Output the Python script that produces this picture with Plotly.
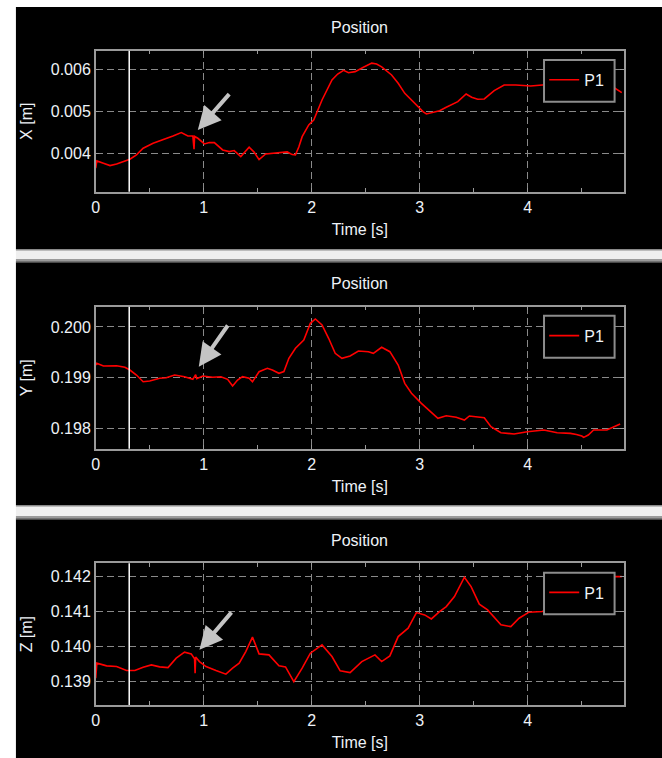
import plotly.graph_objects as go

W, H = 662, 758

# ---------------- data ----------------
t_x = [0.000, 0.010, 0.071, 0.132, 0.193, 0.255, 0.316, 0.377, 0.439, 0.531, 0.623, 0.715, 0.792,
       0.853, 0.899, 0.910, 0.915, 0.945, 1.006, 1.052, 1.098, 1.175, 1.236, 1.282, 1.343, 1.420,
       1.466, 1.512, 1.573, 1.635, 1.727, 1.773, 1.819, 1.849, 1.880, 1.911, 1.972, 2.018, 2.095,
       2.150, 2.187, 2.240, 2.294, 2.340, 2.401, 2.478, 2.555, 2.600, 2.647, 2.739, 2.800, 2.861,
       2.953, 3.030, 3.061, 3.122, 3.183, 3.245, 3.352, 3.429, 3.480, 3.536, 3.597, 3.689, 3.781,
       3.889, 4.027, 4.134, 4.250, 4.400, 4.550, 4.700, 4.808, 4.870]
x_pos = [0.00365, 0.00382, 0.003765, 0.003709, 0.003749, 0.003804, 0.003860, 0.003962, 0.004121,
         0.004239, 0.004318, 0.004412, 0.004491, 0.004412, 0.004412, 0.004100, 0.004400, 0.004357,
         0.004223, 0.004255, 0.004255, 0.004081, 0.004041, 0.004065, 0.003922, 0.004144, 0.004030,
         0.003850, 0.003986, 0.004002, 0.004010, 0.004033, 0.003970, 0.003962, 0.004150, 0.004396,
         0.004673, 0.004791, 0.005265, 0.005560, 0.005739, 0.005880, 0.005968, 0.005913, 0.005937,
         0.006040, 0.006140, 0.006120, 0.006050, 0.005858, 0.005661, 0.005423, 0.005187, 0.004988,
         0.004934, 0.004964, 0.005012, 0.005092, 0.005226, 0.005408, 0.005330, 0.005282, 0.005289,
         0.005486, 0.005621, 0.005621, 0.005597, 0.005621, 0.005640, 0.005660, 0.005640, 0.005600,
         0.005542, 0.005439]

t_y = [0.000, 0.009, 0.071, 0.193, 0.270, 0.316, 0.377, 0.439, 0.500, 0.592, 0.653, 0.730, 0.822,
       0.899, 0.925, 0.935, 0.991, 1.083, 1.159, 1.221, 1.267, 1.313, 1.359, 1.420, 1.451, 1.512,
       1.589, 1.635, 1.696, 1.742, 1.788, 1.849, 1.926, 1.987, 2.033, 2.095, 2.156, 2.217, 2.279,
       2.355, 2.432, 2.524, 2.570, 2.647, 2.723, 2.800, 2.861, 2.923, 3.015, 3.107, 3.168, 3.245,
       3.337, 3.413, 3.459, 3.597, 3.659, 3.751, 3.873, 3.996, 4.149, 4.272, 4.395, 4.450, 4.500,
       4.517, 4.560, 4.609, 4.732, 4.855]
y_pos = [0.19925, 0.199284, 0.199231, 0.199237, 0.199205, 0.199152, 0.199053, 0.198921, 0.198935,
         0.198988, 0.199000, 0.199053, 0.199020, 0.198968, 0.199060, 0.198980, 0.199034, 0.199008,
         0.199020, 0.198968, 0.198836, 0.198955, 0.199020, 0.198988, 0.198921, 0.199118, 0.199185,
         0.199150, 0.199087, 0.199120, 0.199382, 0.199580, 0.199744, 0.200073, 0.200158, 0.200039,
         0.199777, 0.199481, 0.199382, 0.199428, 0.199527, 0.199513, 0.199480, 0.199600, 0.199513,
         0.199250, 0.198889, 0.198692, 0.198495, 0.198310, 0.198199, 0.198250, 0.198219, 0.198166,
         0.198245, 0.198211, 0.198034, 0.197915, 0.197890, 0.197935, 0.197968, 0.197915, 0.197902,
         0.197880, 0.197850, 0.197824, 0.197870, 0.197968, 0.197968, 0.198087]

t_z = [0.000, 0.010, 0.101, 0.193, 0.285, 0.362, 0.439, 0.515, 0.592, 0.669, 0.745, 0.822, 0.884,
       0.915, 0.920, 0.925, 0.960, 1.021, 1.113, 1.205, 1.267, 1.328, 1.389, 1.451, 1.512, 1.604,
       1.696, 1.757, 1.834, 1.911, 1.987, 2.095, 2.187, 2.263, 2.355, 2.463, 2.585, 2.647, 2.723,
       2.800, 2.892, 2.969, 3.045, 3.107, 3.183, 3.245, 3.321, 3.413, 3.475, 3.551, 3.628, 3.751,
       3.843, 3.919, 4.011, 4.134, 4.300, 4.500, 4.700, 4.811, 4.870]
z_pos = [0.139097, 0.139526, 0.139449, 0.139429, 0.139314, 0.139314, 0.139411, 0.139477, 0.139420,
         0.139400, 0.139669, 0.139840, 0.139790, 0.139650, 0.139240, 0.139700, 0.139571, 0.139429,
         0.139314, 0.139211, 0.139383, 0.139526, 0.139857, 0.140269, 0.139791, 0.139763, 0.139449,
         0.139420, 0.139000, 0.139383, 0.139811, 0.140049, 0.139714, 0.139306, 0.139257, 0.139571,
         0.139763, 0.139571, 0.139734, 0.140286, 0.140526, 0.140971, 0.140906, 0.140791, 0.141000,
         0.141143, 0.141429, 0.141983, 0.141714, 0.141211, 0.141049, 0.140620, 0.140571, 0.140811,
         0.140983, 0.141000, 0.141200, 0.141500, 0.141850, 0.142000, 0.142000]

series_name = "P1"
panel_title = "Position"
x_label = "Time [s]"
y_labels = ["X [m]", "Y [m]", "Z [m]"]
cursor_time = 0.31
# arrow tips (data coords) for the annotated glitch
arrow_tips = [(0.945, 0.004555), (0.954, 0.199217), (0.960, 0.139906)]
x_range = [0, 4.89]
y_ranges = [[0.00309, 0.006434], [0.1976, 0.2004], [0.13833, 0.14238]]

# ---------------- layout geometry (pixels) ----------------
def px(x):
    return x / W

def py(y):
    return 1 - y / H

plot_left, plot_right = 92.3, 623.7
plot_tb = [(50.7, 191.7), (306.7, 448.7), (563.3, 705.0)]
panel_tb = [(7, 249), (263, 505), (520, 758)]
legend_tb = [(60, 101.7), (315.7, 357.7), (572.7, 614.3)]
arrow_tail = [(32.7, -37.3), (30, -42.7), (33.3, -39)]

FONT = "Liberation Sans, Arial, sans-serif"
TXT = "#eef2f7"
GRID = "#8a8a8a"
FRAME = "#9a9a9a"

fig = go.Figure()
shapes = []
annotations = []

series = [(t_x, x_pos), (t_y, y_pos), (t_z, z_pos)]
for i, (tt, vv) in enumerate(series):
    n = "" if i == 0 else str(i + 1)
    leg = "legend" if i == 0 else f"legend{i + 1}"
    fig.add_trace(go.Scatter(
        x=tt, y=vv, mode="lines", name=series_name,
        line=dict(color="#ff0000", width=1.6),
        xaxis=f"x{n}", yaxis=f"y{n}", legend=leg, showlegend=True,
    ))
    top, bot = plot_tb[i]
    common_ax = dict(
        showline=True, linecolor=FRAME, linewidth=1.5, mirror="ticks",
        ticks="inside", ticklen=4, tickcolor=FRAME,
        showgrid=True, gridcolor=GRID, gridwidth=1, griddash="7px,4px",
        zeroline=False,
        tickfont=dict(family=FONT, size=16, color=TXT),
        title_font=dict(family=FONT, size=16, color=TXT),
    )
    fig.update_layout(**{
        f"xaxis{n}": dict(
            domain=[px(plot_left), px(plot_right)], anchor=f"y{n}",
            range=x_range, dtick=1, tick0=0,
            minor=dict(dtick=0.5, ticks="inside", ticklen=4, tickcolor=FRAME, showgrid=False),
            title=dict(text=x_label, standoff=9),
            **common_ax),
        f"yaxis{n}": dict(
            domain=[py(bot), py(top)], anchor=f"x{n}",
            range=y_ranges[i], dtick=0.001, tick0=0, tickformat=".3f",
            title=dict(text=y_labels[i], standoff=14),
            **common_ax),
    })
    # black panel background
    ptop, pbot = panel_tb[i]
    shapes.append(dict(type="rect", xref="paper", yref="paper", layer="below",
                       x0=px(12), x1=1, y0=py(pbot), y1=py(ptop),
                       fillcolor="black", line=dict(width=0)))
    # time cursor
    shapes.append(dict(type="line", xref=f"x{n}", yref=f"y{n} domain", layer="above",
                       x0=cursor_time, x1=cursor_time, y0=0, y1=1,
                       line=dict(color="white", width=1.5)))
    # legend box
    ltop, lbot = legend_tb[i]
    shapes.append(dict(type="rect", xref="paper", yref="paper", layer="above",
                       x0=px(543.3), x1=px(614.3), y0=py(lbot), y1=py(ltop),
                       fillcolor="black", line=dict(color="#8c8c8c", width=2)))
    fig.update_layout(**{leg: dict(
        x=px(543.5), y=py((ltop + lbot) / 2 - 1), xanchor="left", yanchor="middle",
        bgcolor="rgba(0,0,0,0)", borderwidth=0,
        font=dict(family=FONT, size=16, color=TXT), itemwidth=30)})
    # title
    annotations.append(dict(text=panel_title, xref="paper", yref="paper",
                            x=px((plot_left + plot_right) / 2), y=py(ptop + 20.5),
                            xanchor="center", yanchor="middle", showarrow=False,
                            font=dict(family=FONT, size=16, color=TXT)))
    # arrow
    tx, tv = arrow_tips[i]
    ax, ay = arrow_tail[i]
    annotations.append(dict(x=tx, y=tv, xref=f"x{n}", yref=f"y{n}", text="",
                            showarrow=True, ax=ax, ay=ay, arrowhead=2, arrowsize=1.15,
                            arrowwidth=4, arrowcolor="#c4c4c4", standoff=0))

# separators between panels
for (s0, s1) in [(249, 263), (505, 520)]:
    shapes.append(dict(type="rect", xref="paper", yref="paper", layer="below",
                       x0=px(12), x1=1, y0=py(s1), y1=py(s0),
                       fillcolor="#efefef", line=dict(width=0)))
    shapes.append(dict(type="rect", xref="paper", yref="paper", layer="below",
                       x0=px(12), x1=1, y0=py(s0 + 1.5), y1=py(s0),
                       fillcolor="#8a8a8a", line=dict(width=0)))
    shapes.append(dict(type="rect", xref="paper", yref="paper", layer="below",
                       x0=px(12), x1=1, y0=py(s1), y1=py(s1 - 4),
                       fillcolor="#9a9a9a", line=dict(width=0)))
    shapes.append(dict(type="rect", xref="paper", yref="paper", layer="below",
                       x0=px(12), x1=1, y0=py(s1), y1=py(s1 - 1.5),
                       fillcolor="#4a4a4a", line=dict(width=0)))

fig.update_layout(
    width=W, height=H, margin=dict(l=0, r=0, t=0, b=0),
    paper_bgcolor="white", plot_bgcolor="black",
    shapes=shapes, annotations=annotations,
    font=dict(family=FONT, size=16, color=TXT),
)

fig.write_html("out.html")
